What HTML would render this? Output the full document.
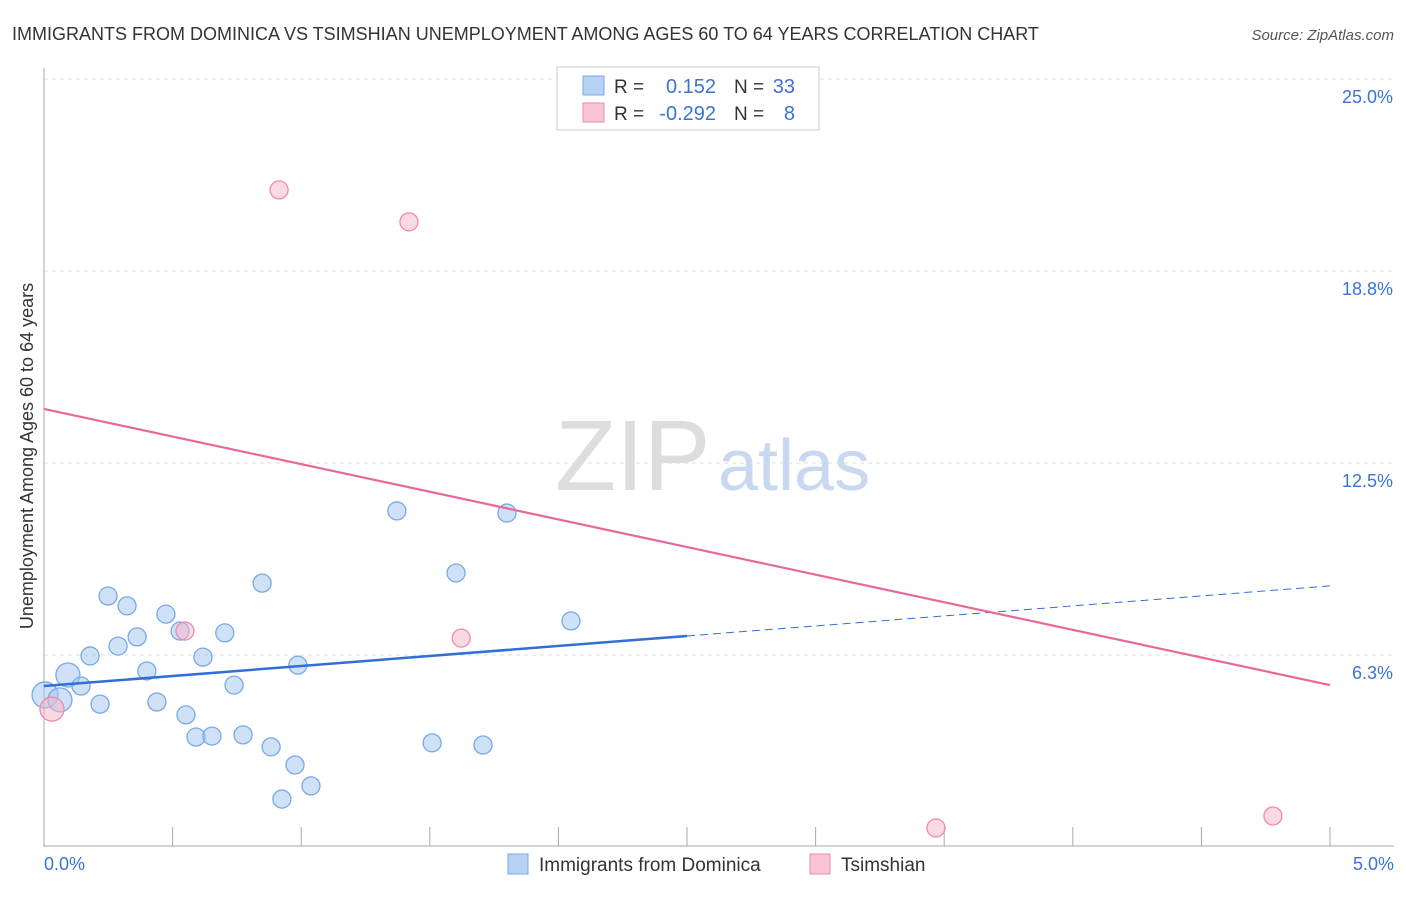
<!DOCTYPE html>
<html><head><meta charset="utf-8"><style>
body{margin:0;background:#fff;font-family:"Liberation Sans",sans-serif;}
svg text{font-family:"Liberation Sans",sans-serif;}
</style></head><body>
<svg id="c" width="1406" height="892">
<text x="12" y="40" font-size="18" fill="#333">IMMIGRANTS FROM DOMINICA VS TSIMSHIAN UNEMPLOYMENT AMONG AGES 60 TO 64 YEARS CORRELATION CHART</text>
<text x="1394" y="40" font-size="15" fill="#555" font-style="italic" text-anchor="end">Source: ZipAtlas.com</text>
<text x="33" y="456" font-size="18" fill="#333" text-anchor="middle" transform="rotate(-90 33 456)">Unemployment Among Ages 60 to 64 years</text>
<text x="555" y="490" font-size="100" fill="#ddd" font-family="Liberation Serif">ZIP</text>
<text x="718" y="490" font-size="72" fill="#c8d8f0">atlas</text>
<g id="grid"></g><g id="marks"></g>
<g>
<rect x="557" y="67" width="262" height="63" fill="#fff" stroke="#ccc"/>
<rect x="583" y="76" width="21" height="19" fill="#b8d2f5" stroke="#7aa8e6"/>
<rect x="583" y="103" width="21" height="19" fill="#f9c5d5" stroke="#f08aa8"/>
<text x="614" y="93" font-size="19" fill="#333">R =</text><text x="716" y="93" font-size="20" fill="#3b73d0" text-anchor="end">0.152</text>
<text x="734" y="93" font-size="19" fill="#333">N =</text><text x="795" y="93" font-size="20" fill="#3b73d0" text-anchor="end">33</text>
<text x="614" y="120" font-size="19" fill="#333">R =</text><text x="716" y="120" font-size="20" fill="#3b73d0" text-anchor="end">-0.292</text>
<text x="734" y="120" font-size="19" fill="#333">N =</text><text x="795" y="120" font-size="20" fill="#3b73d0" text-anchor="end">8</text>
</g>
<g>
<rect x="508" y="854" width="20" height="20" fill="#b8d2f5" stroke="#7aa8e6"/>
<text x="539" y="871" font-size="19" fill="#333">Immigrants from Dominica</text>
<rect x="810" y="854" width="20" height="20" fill="#f9c5d5" stroke="#f08aa8"/>
<text x="841" y="871" font-size="19" fill="#333">Tsimshian</text>
</g>
</svg>
<script>
const blueX=[0.004,0.062,0.093,0.144,0.179,0.218,0.249,0.288,0.323,0.362,0.400,0.439,0.474,0.529,0.552,0.591,0.618,0.653,0.703,0.739,0.774,0.848,0.883,0.925,0.976,0.987,1.038,1.372,1.509,1.602,1.707,1.800,2.049];
const blueY=[4.95,4.79,5.60,5.24,6.22,4.65,8.17,6.54,7.85,6.84,5.73,4.72,7.58,7.03,4.30,3.58,6.18,3.61,6.97,5.27,3.65,8.59,3.26,1.56,2.67,5.92,1.99,10.94,3.39,8.92,3.32,10.87,7.36];
const blueR=[13,12,12,9,9,9,9,9,9,9,9,9,9,9,9,9,9,9,9,9,9,9,9,9,9,9,9,9,9,9,9,9,9];
const pinkX=[0.031,0.548,0.914,1.419,1.622,2.551,3.468,4.778];
const pinkY=[4.49,7.03,21.39,20.35,6.80,25.03,0.62,1.01];
const pinkR=[12,9,9,9,9,9,9,9];
const blueTrend=[5.24,6.87,8.50];
const pinkTrend=[14.26,5.27];
const yTicks=[6.25,12.5,18.75,25];
const yTickLabels=["6.3%","12.5%","18.8%","25.0%"];
const xTicks=[0,0.5,1,1.5,2,2.5,3,3.5,4,4.5,5];
const NS="http://www.w3.org/2000/svg";
function xs(v){return 44+v/5*1286;}
function ys(v){return 847-v/25*768;}
function mk(p,t,a){const e=document.createElementNS(NS,t);for(const k in a)e.setAttribute(k,a[k]);p.appendChild(e);return e;}
const g=document.getElementById('grid'),m=document.getElementById('marks');
yTicks.forEach((v,i)=>{
 const l=mk(g,'line',{x1:44,x2:1394,y1:ys(v),y2:ys(v),stroke:'#ddd','stroke-dasharray':'4 4'});
 
 
 const t=mk(g,'text',{x:1393,y:ys(v)+24,'font-size':18,fill:'#3b73d0','text-anchor':'end'});t.textContent=yTickLabels[i];
 
 
});
const ax=mk(g,'line',{x1:44,x2:44,y1:68,y2:847,stroke:'#aaa'});


const bx=mk(g,'line',{x1:44,x2:1394,y1:846,y2:846,stroke:'#aaa'});


xTicks.forEach(v=>{const t=mk(g,'line',{x1:xs(v),x2:xs(v),y1:827,y2:846,stroke:'#aaa'});
 
 });
const x0=mk(g,'text',{x:44,y:870,'font-size':18,fill:'#3b73d0'});x0.textContent='0.0%';


const x1=mk(g,'text',{x:1394,y:870,'font-size':18,fill:'#3b73d0','text-anchor':'end'});x1.textContent='5.0%';


blueX.forEach((v,i)=>{const c=mk(m,'circle',{cx:xs(v),cy:ys(blueY[i]),r:blueR[i],fill:'rgba(160,195,240,0.5)',stroke:'#7aa8e6','stroke-width':1.3});
 
 });
pinkX.forEach((v,i)=>{const c=mk(m,'circle',{cx:xs(v),cy:ys(pinkY[i]),r:pinkR[i],fill:'rgba(248,180,200,0.5)',stroke:'#f08aa8','stroke-width':1.3});
 
 });
const b1=mk(m,'line',{x1:xs(0),y1:ys(blueTrend[0]),x2:xs(2.5),y2:ys(blueTrend[1]),stroke:'#2f6fd6','stroke-width':2.5});


const b2=mk(m,'line',{x1:xs(2.5),y1:ys(blueTrend[1]),x2:xs(5),y2:ys(blueTrend[2]),stroke:'#2f6fd6','stroke-width':1,'stroke-dasharray':'8 5'});


const p1=mk(m,'line',{x1:xs(0),y1:ys(pinkTrend[0]),x2:xs(5),y2:ys(pinkTrend[1]),stroke:'#e8689a','stroke-width':2.2});


</script>
</body></html>
